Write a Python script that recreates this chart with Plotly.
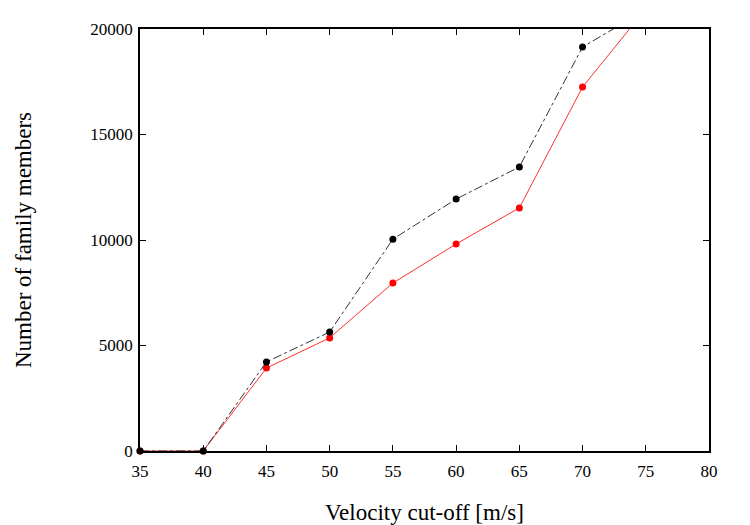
import plotly.graph_objects as go

velocity = [35, 40, 45, 50, 55, 60, 65, 70, 75]
members_black = [0, 0, 4220, 5640, 10040, 11940, 13460, 19150, 20900]
members_red = [0, 0, 3930, 5360, 7960, 9810, 11520, 17250, 20950]
y_ticks = [0, 5000, 10000, 15000, 20000]
y_max = 20000

def sizes(vals):
    return [7 if v <= y_max else 0 for v in vals]

fig = go.Figure()
fig.add_trace(go.Scatter(
    x=velocity, y=members_red, mode="lines+markers",
    line=dict(color="#ff3030", width=1),
    marker=dict(color="#ff0000", size=sizes(members_red), opacity=1, line=dict(width=0)),
    opacity=1, cliponaxis=False, showlegend=False))
fig.add_trace(go.Scatter(
    x=velocity, y=members_black, mode="lines+markers",
    line=dict(color="#333333", width=1, dash="dashdot"),
    marker=dict(color="#000000", size=sizes(members_black), opacity=1, line=dict(width=0)),
    opacity=1, cliponaxis=False, showlegend=False))

font_family = "Liberation Serif"
fig.update_layout(
    width=750, height=525,
    margin=dict(l=140, r=41, t=29, b=74, autoexpand=False),
    plot_bgcolor="white", paper_bgcolor="white",
    font=dict(family=font_family, color="black", size=16),
    xaxis=dict(range=[35, 80], tickvals=[35, 40, 45, 50, 55, 60, 65, 70, 75, 80],
               ticks="inside", ticklen=6, tickcolor="black", mirror="ticks",
               showline=True, linecolor="black", linewidth=1.5, showgrid=False,
               zeroline=False, tickfont=dict(size=17, family=font_family), ticklabelstandoff=4,
               automargin=False,
               title=dict(text="Velocity cut-off [m/s]", font=dict(size=23, family=font_family), standoff=26)),
    yaxis=dict(range=[0, y_max], tickvals=y_ticks, ticktext=[str(v) for v in y_ticks],
               ticks="inside", ticklen=6, tickcolor="black", mirror="ticks",
               showline=True, linecolor="black", linewidth=1.5, showgrid=False,
               zeroline=False, tickfont=dict(size=17, family=font_family), ticklabelstandoff=2,
               automargin=False,
               title=dict(text="Number of family members", font=dict(size=23, family=font_family), standoff=52)),
)
fig.write_html("out.html")
